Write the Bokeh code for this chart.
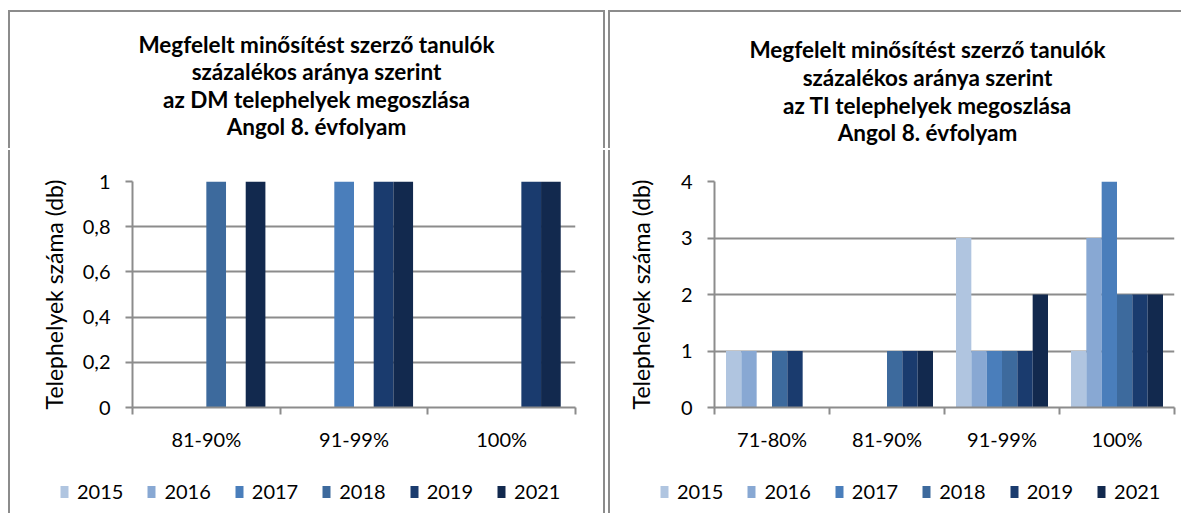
from bokeh.plotting import figure
from bokeh.models import (ColumnDataSource, FixedTicker, Legend, LegendItem,
                          Range1d, Spacer, Label)
from bokeh.layouts import row, column
from bokeh.embed import file_html
from bokeh.resources import INLINE

# ---------------- data ----------------
years = ["2015", "2016", "2017", "2018", "2019", "2021"]
colors = ["#B0C5E0", "#88A8D3", "#4A7EBB", "#3D6A9D", "#1A3B6E", "#12294E"]

dm_categories = ["81-90%", "91-99%", "100%"]
dm_2015 = [0, 0, 0]
dm_2016 = [0, 0, 0]
dm_2017 = [0, 1, 0]
dm_2018 = [1, 0, 0]
dm_2019 = [0, 1, 1]
dm_2021 = [1, 1, 1]

ti_categories = ["71-80%", "81-90%", "91-99%", "100%"]
ti_2015 = [1, 0, 3, 1]
ti_2016 = [1, 0, 1, 3]
ti_2017 = [0, 0, 1, 4]
ti_2018 = [1, 1, 1, 2]
ti_2019 = [1, 1, 1, 2]
ti_2021 = [0, 1, 2, 2]

dm_yticks = [0, 0.2, 0.4, 0.6, 0.8, 1]
dm_ytick_labels = ["0", "0,2", "0,4", "0,6", "0,8", "1"]
ti_yticks = [0, 1, 2, 3, 4]
ti_ytick_labels = ["0", "1", "2", "3", "4"]

dm_title = ["Megfelelt minősítést szerző tanulók",
            "százalékos aránya szerint",
            "az DM telephelyek megoszlása",
            "Angol 8. évfolyam"]
ti_title = ["Megfelelt minősítést szerző tanulók",
            "százalékos aránya szerint",
            "az TI telephelyek megoszlása",
            "Angol 8. évfolyam"]
y_label = "Telephelyek száma (db)"

FONT = "Lato"
GRAY = "#8c8c8c"
BAR_W = 1 / 7.5
GROUP_PAD = 0.1
SH_LTR = "-2px -2px 0 0 #8c8c8c, 2px -2px 0 0 #8c8c8c"
SH_LR = "-2px 0 0 0 #8c8c8c, 2px 0 0 0 #8c8c8c"
SH_LT = "-2px -2px 0 0 #8c8c8c"
SH_L = "-2px 0 0 0 #8c8c8c"


def bar_sources(n, series):
    out = []
    for j, vals in enumerate(series):
        xs = [i + GROUP_PAD + (j + 0.5) * BAR_W for i in range(n)]
        out.append(ColumnDataSource(dict(x=xs, top=vals)))
    return out


def blank_fig(width, height, shadow):
    f = figure(width=width, height=height, x_range=Range1d(-20, -19),
               y_range=Range1d(-20, -19), output_backend="svg",
               toolbar_location=None, x_axis_location=None,
               y_axis_location=None, min_border=0, title=None)
    f.styles = {"box-shadow": shadow}
    f.outline_line_color = None
    f.grid.visible = False
    return f


def build_title(lines, width, height, cx, ys, shadow):
    t = blank_fig(width, height, shadow)
    for line, y in zip(lines, ys):
        t.add_layout(Label(x=cx, y=y, x_units="screen", y_units="screen",
                           text=line, text_align="center",
                           text_baseline="middle", text_font=FONT,
                           text_font_size="22.5px", text_font_style="bold",
                           text_color="black"))
    return t


def build(categories, series, yticks, ylabels, width, height,
          mb_left, mb_right, mb_top, mb_bottom, ylab_standoff, shadow):
    n = len(categories)
    p = figure(width=width, height=height, x_range=Range1d(0, n),
               y_range=Range1d(0, max(yticks)), output_backend="svg",
               toolbar_location=None, min_border_left=mb_left,
               min_border_right=mb_right, min_border_top=mb_top,
               min_border_bottom=mb_bottom, title=None)
    p.styles = {"box-shadow": shadow}
    p.outline_line_color = None
    p.background_fill_color = "white"
    p.border_fill_color = "white"

    for j, src in enumerate(bar_sources(n, series)):
        p.vbar(x="x", top="top", bottom=0, width=BAR_W, source=src,
               fill_color=colors[j], line_color=None)

    # x axis: labels at category centres, ticks at boundaries
    xa = p.xaxis[0]
    xa.ticker = FixedTicker(ticks=[i + 0.5 for i in range(n)],
                            minor_ticks=list(range(n + 1)))
    xa.major_label_overrides = {i + 0.5: c for i, c in enumerate(categories)}
    xa.major_tick_out = 0
    xa.major_tick_in = 0
    xa.minor_tick_out = 7
    xa.minor_tick_in = 0
    xa.minor_tick_line_color = GRAY
    xa.minor_tick_line_width = 2
    xa.axis_line_color = GRAY
    xa.axis_line_width = 2
    xa.major_label_text_font = FONT
    xa.major_label_text_font_size = "20px"
    xa.major_label_text_color = "black"
    xa.major_label_standoff = 12

    ya = p.yaxis[0]
    ya.ticker = FixedTicker(ticks=yticks)
    ya.major_label_overrides = {t: l for t, l in zip(yticks, ylabels)}
    ya.major_tick_out = 7
    ya.major_tick_in = 0
    ya.major_tick_line_color = GRAY
    ya.major_tick_line_width = 2
    ya.minor_tick_line_color = None
    ya.axis_line_color = GRAY
    ya.axis_line_width = 2
    ya.major_label_text_font = FONT
    ya.major_label_text_font_size = "20px"
    ya.major_label_text_color = "black"
    ya.major_label_standoff = 15
    ya.axis_label = y_label
    ya.axis_label_text_font = FONT
    ya.axis_label_text_font_size = "23px"
    ya.axis_label_text_font_style = "normal"
    ya.axis_label_text_color = "black"
    ya.axis_label_standoff = ylab_standoff

    p.xgrid.visible = False
    p.ygrid.grid_line_color = GRAY
    p.ygrid.grid_line_width = 2
    return p


def build_legend(n, series, width, height, legend_x, legend_y, shadow):
    lp = blank_fig(width, height, shadow)
    items = []
    for yr, c, src in zip(years, colors, bar_sources(n, series)):
        r = lp.vbar(x="x", top="top", bottom=0, width=BAR_W, source=src,
                    fill_color=c, line_color=None)
        items.append(LegendItem(label=yr, renderers=[r]))
    legend = Legend(items=items, orientation="horizontal",
                    location=(legend_x, legend_y), glyph_width=10,
                    glyph_height=15, label_standoff=8, spacing=23, padding=0,
                    margin=0, border_line_color=None,
                    background_fill_alpha=0, label_text_font=FONT,
                    label_text_font_size="20px", label_text_color="black")
    lp.add_layout(legend)
    return lp


dm_series = [dm_2015, dm_2016, dm_2017, dm_2018, dm_2019, dm_2021]
ti_series = [ti_2015, ti_2016, ti_2017, ti_2018, ti_2019, ti_2021]

t1 = build_title(dm_title, 593, 138, 306, [106, 79, 51, 24], SH_LTR)
t2 = build_title(ti_title, 573, 138, 317, [101, 73, 45, 18], SH_LT)
p1 = build(dm_categories, dm_series, dm_yticks, dm_ytick_labels,
           width=593, height=320, mb_left=122, mb_right=28, mb_top=31,
           mb_bottom=63, ylab_standoff=12, shadow=SH_LR)
p2 = build(ti_categories, ti_series, ti_yticks, ti_ytick_labels,
           width=573, height=320, mb_left=104, mb_right=9, mb_top=31,
           mb_bottom=62, ylab_standoff=23, shadow=SH_L)
l1 = build_legend(len(dm_categories), dm_series, 593, 43, 49, 10, SH_LR)
l2 = build_legend(len(ti_categories), ti_series, 573, 43, 49, 10, SH_L)

layout = column(Spacer(height=12),
                row(Spacer(width=10), t1, Spacer(width=7), t2),
                row(Spacer(width=10), p1, Spacer(width=7), p2),
                row(Spacer(width=10), l1, Spacer(width=7), l2))

with open("out.html", "w") as f:
    f.write(file_html(layout, INLINE))
